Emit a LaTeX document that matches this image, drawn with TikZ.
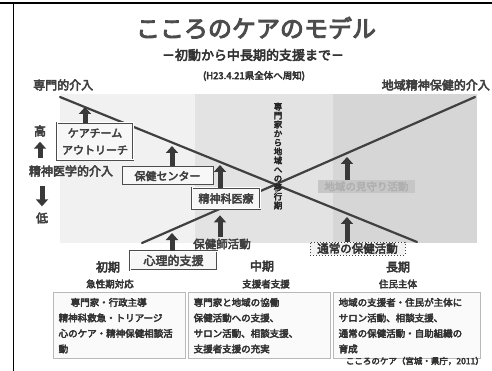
\documentclass[tikz,border=0pt]{standalone}
\usepackage{fontspec}
\newfontfamily\jp{Noto Sans CJK JP}
\newfontfamily\jpb{Noto Sans CJK JP}[FakeBold=4]
\usetikzlibrary{arrows.meta}
\tikzset{
  ttl/.style={font=\jpb\fontsize{24}{26}\selectfont, text=black!70, inner sep=0},
  subt/.style={font=\jpb\fontsize{13}{15}\selectfont, text=black!80, inner sep=0},
  note/.style={font=\jpb\fontsize{9.5}{11}\selectfont, text=black!80, inner sep=0},
  lbl/.style={font=\jpb\fontsize{12}{14}\selectfont, text=black!75, inner sep=0},
  lbltwo/.style={font=\jpb\fontsize{11.5}{13}\selectfont, text=black!75, inner sep=0},
  dbox/.style={draw=black!70, double=white, double distance=1pt, line width=0.7pt, fill=gray!6,
     font=\jpb\fontsize{11}{17}\selectfont, text=black!75, inner sep=1pt, align=center},
  sbox/.style={draw=black!70, line width=1pt, fill=gray!6,
     font=\jpb\fontsize{11}{13}\selectfont, text=black!75, inner sep=1pt},
  gbox/.style={draw=none, fill=gray!45, font=\jpb\fontsize{10.5}{12}\selectfont, text=gray!62, inner sep=1pt},
  rbox/.style={draw=black!75, dotted, line width=1pt, fill=gray!10,
     font=\jpb\fontsize{11.5}{13}\selectfont, text=black!80, inner sep=1pt},
  bbox/.style={draw=gray!55, line width=1.4pt, fill=gray!4, anchor=north west, align=left,
     font=\jpb\fontsize{9.5}{15.5}\selectfont, text=black!80, inner xsep=5pt, inner ysep=3pt},
  phase/.style={font=\jpb\fontsize{12}{14}\selectfont, text=black!80, inner sep=0},
  psub/.style={font=\jpb\fontsize{9.5}{11}\selectfont, text=black!80, inner sep=0},
  src/.style={font=\jpb\fontsize{8.5}{10}\selectfont, text=black!80, inner sep=0},
  vtext/.style={font=\jpb\fontsize{8.5}{9}\selectfont, text=black!85, inner sep=0, align=center},
  blk/.style={draw=gray!45!black, line width=5pt, -{Triangle[width=12pt,length=7pt]}},
  diag/.style={draw=gray!50!black, line width=2.2pt, line cap=round}
}
\begin{document}
\begin{tikzpicture}[x=1pt,y=-1pt]
\useasboundingbox (0,0) rectangle (492,371);
\fill[white] (0,0) rectangle (492,371);
% frame
\draw[line width=1.5pt] (0,3) -- (492,3);
\draw[line width=1.8pt] (13.5,3) -- (13.5,371);
% shaded areas
\fill[gray!11] (60,94) rectangle (195,243);
\fill[gray!22] (195,94) rectangle (333,243);
\fill[gray!32] (333,94) rectangle (477,243);
% titles
\node[ttl] (t) at (256,28) {こころのケアのモデル};
\node[subt] (s) at (253,55) {－初動から中長期的支援まで－};
\node[note] (n) at (254,76) {(H23.4.21県全体へ周知)};
\node[lbl, anchor=west] (l1) at (33,85) {専門的介入};
\node[lbl, anchor=east] (l2) at (490,85) {地域精神保健的介入};
% diagonals
\coordinate (d1s) at (60,97);
\coordinate (d1e) at (417,242);
\coordinate (d2s) at (142,243);
\coordinate (d2e) at (475,97);
\draw[diag] (d1s) -- (d1e);
\draw[diag] (d2s) -- (d2e);
% vertical text
\node[vtext] (vt) at (278,156) {専\\門\\家\\か\\ら\\地\\域\\へ\\の\\移\\行\\期};
% left scale
\node[lbl] (hi) at (40,131) {高};
\node[lbl] (mid) at (71,171) {精神医学的介入};
\node[lbl] (lo) at (42,218) {低};
\draw[blk, shorten <=7pt, shorten >=5pt] (mid.north -| hi) -- (hi.south);
\draw[blk, shorten <=9pt, shorten >=6pt] (mid.south -| lo) -- (lo.north);
% boxes
\node[dbox, minimum width=76pt, minimum height=37pt] (ct) at (95,141.5) {ケアチーム\\アウトリーチ};
\node[sbox, minimum width=91pt, minimum height=18pt] (hc) at (167.5,176) {保健センター};
\node[dbox, minimum width=68pt, minimum height=21pt] (pm) at (226,198.5) {精神科医療};
\node[lbltwo] (hs) at (222,244) {保健師活動};
\node[dbox, minimum width=87pt, minimum height=19pt, font=\jpb\fontsize{12}{14}\selectfont] (ps) at (173.5,260.5) {心理的支援};
\node[gbox, minimum width=97pt, minimum height=13pt] (gr) at (366.5,186.5) {地域の見守り活動};
\node[rbox, minimum width=95pt, minimum height=13pt] (rb) at (357.5,248.5) {通常の保健活動};
% block arrows
\coordinate (a1) at (85,107);
\coordinate (a2) at (172,146);
\coordinate (a3) at (220,165);
\coordinate (a5) at (172,233);
\coordinate (a6) at (347,157);
\coordinate (a7) at (347,217);
\draw[blk] (ct.north -| a1) -- (a1);
\draw[blk] (hc.north -| a2) -- (a2);
\draw[blk] (pm.north -| a3) -- (a3);
\draw[blk, shorten >=6pt, shorten <=1pt] (hs.north -| a3) -- (pm.south -| a3);
\draw[blk] (ps.north -| a5) -- (a5);
\draw[blk] (gr.north -| a6) -- (a6);
\draw[blk] (rb.north -| a7) -- (a7);
% phases
\node[phase] (p1) at (108,267) {初期};
\node[phase] (p2) at (262,266) {中期};
\node[phase] (p3) at (398,267) {長期};
\node[psub] (q1) at (110,284) {急性期対応};
\node[psub] (q2) at (266,284) {支援者支援};
\node[psub] (q3) at (398,284) {住民主体};
\node[bbox, text width=122pt, minimum height=66pt] (b1) at (53,292)
  {\hspace*{12pt}専門家・行政主導\\精神科救急・トリアージ\\心のケア・精神保健相談活\\動};
\node[bbox, text width=132pt, minimum height=66pt] (b2) at (188,292)
  {専門家と地域の協働\\保健活動への支援、\\サロン活動、相談支援、\\支援者支援の充実};
\node[bbox, text width=137pt, minimum height=66pt] (b3) at (333,292)
  {地域の支援者・住民が主体に\\サロン活動、相談支援、\\通常の保健活動・自助組織の\\育成};
\node[src, anchor=east] (sr) at (484,361) {こころのケア（宮城・県庁，2011）};
\end{tikzpicture}
\end{document}
